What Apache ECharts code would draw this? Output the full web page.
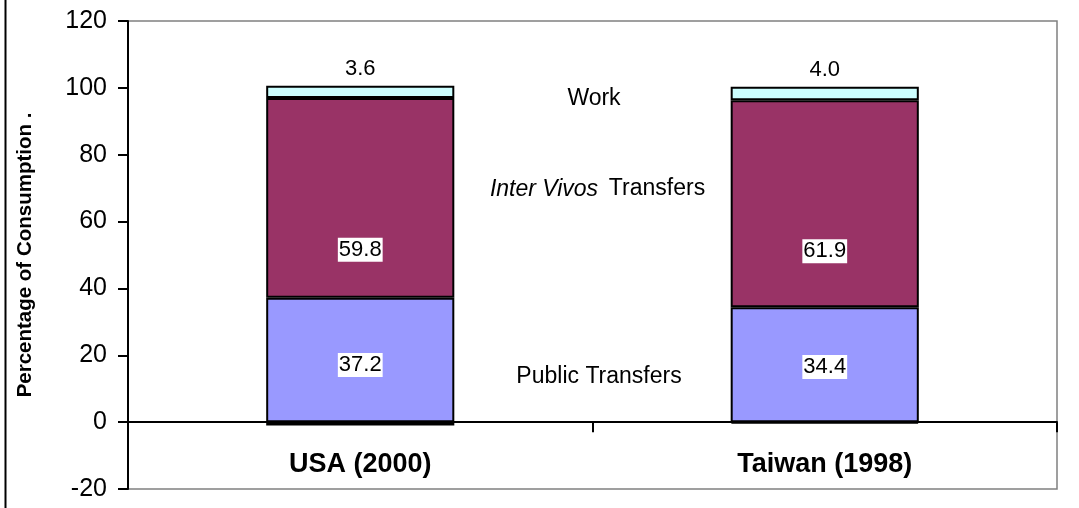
<!DOCTYPE html>
<html>
<head>
<meta charset="utf-8">
<script src="https://cdn.jsdelivr.net/npm/echarts@6/dist/echarts.min.js"></script>
<style>
html,body{margin:0;padding:0;background:#fff;}
#chart{width:1079px;height:508px;}
</style>
</head>
<body>
<div id="chart"></div>
<script>
var categories = ['USA (2000)', 'Taiwan (1998)'];
var publicTransfers = [37.2, 34.4];
var interVivos = [59.8, 61.9];
var work = [3.6, 4.0];
var assetNeg = [-1.0, -0.4];
var yTicks = { min: -20, max: 120, interval: 20 };

var FONT = 'Arial, "Liberation Sans", sans-serif';
var chart = echarts.init(document.getElementById('chart'), null, { renderer: 'canvas' });

function barSeries(name, data, color, label) {
  return {
    name: name,
    type: 'bar',
    stack: 'total',
    barWidth: '40.5%',
    data: data,
    itemStyle: { color: color, borderColor: '#000', borderWidth: 2 },
    label: label || { show: false },
    emphasis: { disabled: true },
    silent: true
  };
}

var valueLabelStyle = {
  show: true,
  color: '#000',
  fontFamily: FONT,
  fontSize: 22,
  backgroundColor: '#fff',
  padding: [2, 1, 0, 1],
  align: 'center',
  verticalAlign: 'middle',
  formatter: function (p) { return p.value.toFixed(1); }
};

function withPos(values, positions) {
  return values.map(function (v, i) {
    return { value: v, label: { position: positions[i] } };
  });
}

chart.setOption({
  animation: false,
  backgroundColor: '#fff',
  grid: {
    left: 128, right: 22, top: 21, bottom: 19,
    containLabel: false,
    outerBoundsMode: 'none',
    show: true, borderColor: '#808080', borderWidth: 1.5, backgroundColor: 'transparent'
  },
  xAxis: {
    type: 'category',
    data: categories,
    axisLine: { onZero: true, lineStyle: { color: '#000', width: 2 } },
    axisTick: { show: true, length: 10, inside: false, lineStyle: { color: '#000', width: 2 } },
    axisLabel: { margin: -38, color: '#000', fontFamily: FONT, fontSize: 27, fontWeight: 'bold' },
    splitLine: { show: false }
  },
  yAxis: {
    type: 'value',
    min: yTicks.min, max: yTicks.max, interval: yTicks.interval,
    name: 'Percentage of Consumption .',
    nameLocation: 'middle',
    nameGap: 92,
    nameTextStyle: { color: '#000', fontFamily: FONT, fontSize: 20.5, fontWeight: 'bold' },
    axisLine: { show: true, lineStyle: { color: '#000', width: 2 } },
    axisTick: { show: true, length: 10, lineStyle: { color: '#000', width: 2 } },
    axisLabel: { margin: 21, color: '#000', fontFamily: FONT, fontSize: 25 },
    splitLine: { show: false }
  },
  series: [
    barSeries('Public Transfers', withPos(publicTransfers, [['50%', '54%'], ['50%', '52%']]), '#9999FF',
      Object.assign({}, valueLabelStyle)),
    barSeries('Inter Vivos Transfers', withPos(interVivos, [['50%', '76%'], ['50%', '73%']]), '#993366',
      Object.assign({}, valueLabelStyle)),
    barSeries('Work', work, '#CCFFFF',
      Object.assign({}, valueLabelStyle, { position: 'top', distance: 6, backgroundColor: 'transparent', verticalAlign: 'bottom' })),
    barSeries('Other', assetNeg, '#FFFFCC')
  ],
  graphic: [
    { type: 'line', shape: { x1: 5.5, y1: 0, x2: 5.5, y2: 508 }, style: { stroke: '#000', lineWidth: 2 }, silent: true },
    { type: 'text', x: 594, y: 99, style: { text: 'Work', font: '23px ' + FONT, fill: '#000', align: 'center', verticalAlign: 'middle' } },
    { type: 'text', x: 544, y: 190, style: { text: 'Inter Vivos', font: 'italic 23px ' + FONT, fill: '#000', align: 'center', verticalAlign: 'middle' } },
    { type: 'text', x: 657, y: 189, style: { text: 'Transfers', font: '23px ' + FONT, fill: '#000', align: 'center', verticalAlign: 'middle' } },
    { type: 'text', x: 599, y: 377, style: { text: 'Public Transfers', font: '23px ' + FONT, fill: '#000', align: 'center', verticalAlign: 'middle' } }
  ]
});
</script>
</body>
</html>
